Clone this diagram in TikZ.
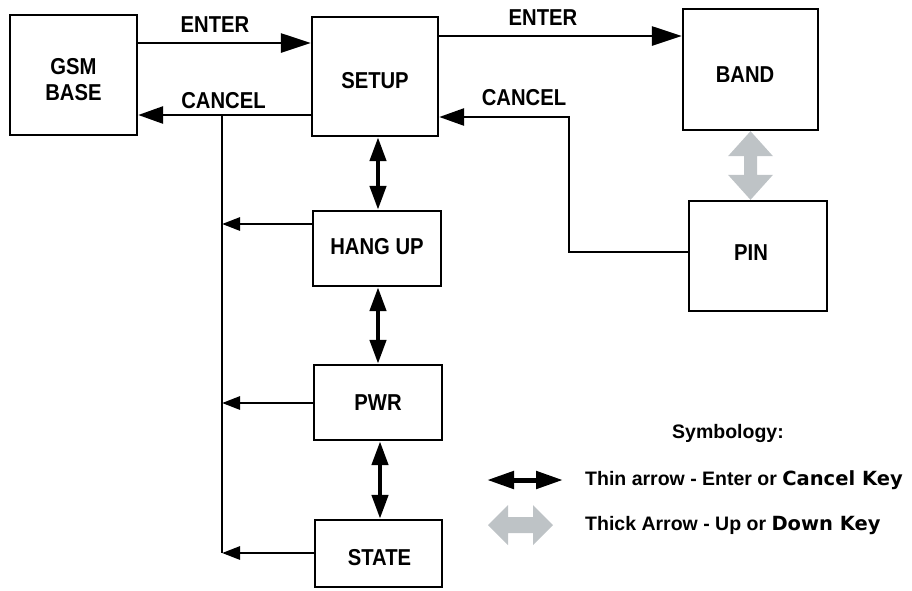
\documentclass[tikz,border=0pt]{standalone}
\usepackage{fontspec}
\setmainfont{Liberation Sans}
\newfontfamily\labfont{Liberation Sans}[FakeStretch=0.88]
\newfontfamily\widefont{DejaVu Sans}
\usetikzlibrary{arrows.meta,calc}
\definecolor{arrgray}{RGB}{190,195,198}
\newcommand{\shiftbox}[3]{\raisebox{#2}[\height][\depth]{\hspace*{#1}#3\hspace*{-#1}}}
\begin{document}
\begin{tikzpicture}[x=1pt,y=-1pt,
  box/.style={draw, line width=2.4pt, inner sep=0pt,
    font=\labfont\bfseries\fontsize{23}{26}\selectfont},
  lbl/.style={inner sep=0pt, font=\labfont\bfseries\fontsize{23}{26}\selectfont},
  legtext/.style={inner sep=0pt, anchor=west, font=\bfseries\fontsize{19.5}{22}\selectfont},
  conn/.style={line width=2.8pt, line join=miter},
  bigtip/.style={-{Triangle[length=30pt,width=19pt]}},
  cantip/.style={-{Triangle[length=25pt,width=17pt]}},
  smalltip/.style={-{Triangle[length=18pt,width=13pt]}},
  vdouble/.style={line width=4.5pt, {Triangle[length=24pt,width=16pt]}-{Triangle[length=24pt,width=16pt]}},
  graysym/.style={fill=arrgray, draw=none}
]
\useasboundingbox (0,0) rectangle (912,590);

% boxes
\node[box, minimum width=127pt, minimum height=120pt] (gsm) at (73.5,75)
  {\shiftbox{0pt}{-7.5pt}{\begin{tabular}{@{}c@{}}GSM\\BASE\end{tabular}}};
\node[box, minimum width=126pt, minimum height=119pt] (setup) at (375,76.5) {\shiftbox{0pt}{-4pt}{SETUP}};
\node[box, minimum width=135pt, minimum height=121pt] (band) at (750.5,69.5) {\shiftbox{-5.5pt}{-5pt}{BAND}};
\node[box, minimum width=138pt, minimum height=110pt] (pin) at (758,256) {\shiftbox{-7pt}{3pt}{PIN}};
\node[box, minimum width=128pt, minimum height=75pt] (hang) at (377,248.5) {\shiftbox{0pt}{2pt}{HANG UP}};
\node[box, minimum width=128pt, minimum height=75pt] (pwr) at (378,402.5) {PWR};
\node[box, minimum width=127pt, minimum height=67pt] (state) at (378.5,553.5) {\shiftbox{1pt}{-4pt}{STATE}};

% labels
\node[lbl] (lenter1) at (215,24.5) {ENTER};
\node[lbl] (lcancel1) at (223.5,101) {CANCEL};
\node[lbl] (lenter2) at (543,17.5) {ENTER};
\node[lbl] (lcancel2) at (524,98) {CANCEL};

% helper coordinates
\coordinate (e1) at (0,43);
\coordinate (e2) at (0,36);
\coordinate (v0) at (222,115);
\coordinate (v3) at (222,553);
\coordinate (bh) at (0,224);
\coordinate (bp) at (0,403);
\coordinate (bs) at (0,553);
\coordinate (c2) at (569,117);
\coordinate (pc) at (0,252);
\coordinate (vx) at (378,0);
\coordinate (vx2) at (380,0);

% enter arrows
\draw[conn, bigtip] (gsm.east |- e1) -- (setup.west |- e1);
\draw[conn, bigtip] (setup.east |- e2) -- (band.west |- e2);

% cancel to GSM base
\draw[conn, cantip] (setup.west |- v0) -- (gsm.east |- v0);
\draw[conn] (v0) -- (v3);
\draw[conn, smalltip] (hang.west |- bh) -- (v0 |- bh);
\draw[conn, smalltip] (pwr.west |- bp) -- (v0 |- bp);
\draw[conn, smalltip] (state.west |- bs) -- (v0 |- bs);

% cancel from PIN to SETUP
\draw[conn, cantip] (pin.west |- pc) -- (c2 |- pc) -- (c2) -- (setup.east |- c2);

% vertical double arrows
\draw[vdouble] (setup.south -| vx) -- (hang.north -| vx);
\draw[vdouble] (hang.south -| vx) -- (pwr.north -| vx);
\draw[vdouble] (pwr.south -| vx2) -- (state.north -| vx2);

% thick gray arrow BAND <-> PIN
\coordinate (gt) at (band.south);
\coordinate (gb) at (band.south |- pin.north);
\fill[graysym] (gt) -- ++(22.5,25) -- ++(-16,0) -- ($(gb)+(6.5,-25)$) -- ++(16,0)
  -- (gb) -- ++(-22.5,-25) -- ++(16,0) -- ($(gt)+(-6.5,25)$) -- ++(-16,0) -- cycle;

% legend
\node[inner sep=0pt, font=\bfseries\fontsize{19.5}{22}\selectfont] (symb) at (728,433) {Symbology:};
\coordinate (la1) at (487,480);
\coordinate (la2) at (563,480);
\draw[line width=5pt, {Triangle[length=27pt,width=17pt]}-{Triangle[length=27pt,width=17pt]}] (la1) -- (la2);
\node[legtext] (lt1) at (585,480) {Thin arrow - Enter or {\widefont\bfseries Cancel Key}};
\coordinate (lg1) at (488,525);
\coordinate (lg2) at (553,525);
\fill[graysym] (lg1) -- ++(20,-20) -- ++(0,12) -- ($(lg2)+(-20,-8)$) -- ++(0,-12)
  -- (lg2) -- ++(-20,20) -- ++(0,-12) -- ($(lg1)+(20,8)$) -- ++(0,12) -- cycle;
\node[legtext] (lt2) at (585,525) {Thick Arrow - Up or {\widefont\bfseries Down Key}};
\end{tikzpicture}
\end{document}
